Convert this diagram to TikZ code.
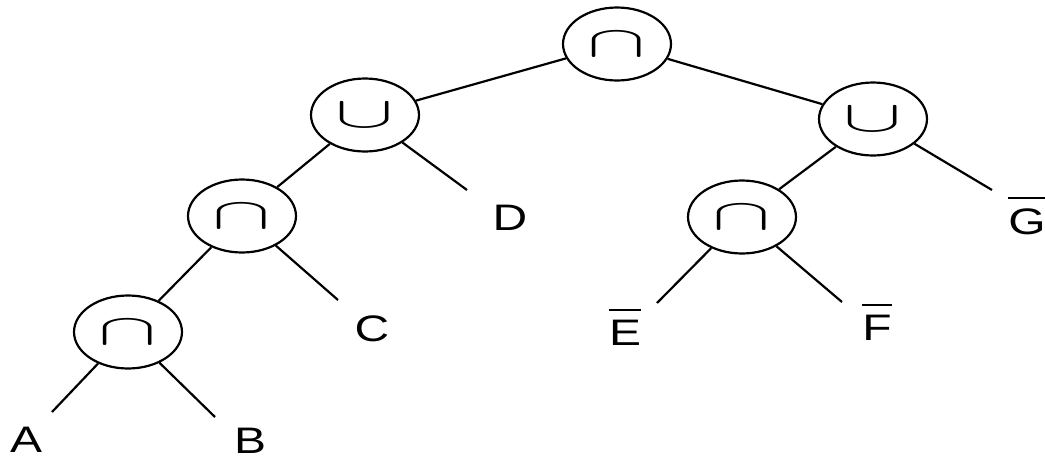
\documentclass[tikz,border=0pt]{standalone}
\usepackage{fontspec}
\setmainfont{Liberation Sans}
\usetikzlibrary{shapes.geometric}
\newcommand\wide[1]{\scalebox{1.3}[1]{#1}}
\newcommand\barred[1]{\vbox{\hrule height 1.2pt\kern 5pt\hbox{#1}}}
\newcommand\opcap{\scalebox{2.0}[1]{\fontsize{27}{27}\selectfont$\cap$}}
\newcommand\opcup{\scalebox{2.0}[1]{\fontsize{27}{27}\selectfont$\cup$}}
\begin{document}
\begin{tikzpicture}[x=0.02cm,y=-0.02cm,
  op/.style={draw,ellipse,line width=1.25pt,minimum width=2.16cm,minimum height=1.46cm,inner sep=0pt},
  leaf/.style={font=\fontsize{21}{21}\selectfont,inner sep=0pt,anchor=base},
  edge/.style={line width=1.25pt}]
\useasboundingbox (0,0) rectangle (1045,460);
% operator nodes
\node[op] (r)  at (617,44)  {\opcap};
\node[op] (lu) at (365,115) {\opcup};
\node[op] (ru) at (873,119) {\opcup};
\node[op] (lc) at (242,216) {\opcap};
\node[op] (rc) at (742,217) {\opcap};
\node[op] (bc) at (128,332) {\opcap};
% leaf labels
\node[leaf] (A) at (26,452) {\wide{A}};
\node[leaf] (B) at (250,453) {\wide{B}};
\node[leaf] (C) at (372,341) {\wide{C}};
\node[leaf] (D) at (510,230) {\wide{D}};
\node[leaf] (E) at (625,345) {\barred{\wide{E}}};
\node[leaf] (F) at (877,340) {\barred{\wide{F}}};
\node[leaf] (G) at (1027,234) {\barred{\wide{G}}};
% free ends of leaf edges
\coordinate (eA) at (52,412);
\coordinate (eB) at (215,417);
\coordinate (eC) at (338,300);
\coordinate (eD) at (467,190);
\coordinate (eE) at (657,303);
\coordinate (eF) at (842,302);
\coordinate (eG) at (992,190);
% edges
\draw[edge] (r) -- (lu);
\draw[edge] (r) -- (ru);
\draw[edge] (lu) -- (lc);
\draw[edge] (lu) -- (eD);
\draw[edge] (lc) -- (bc);
\draw[edge] (lc) -- (eC);
\draw[edge] (bc) -- (eA);
\draw[edge] (bc) -- (eB);
\draw[edge] (ru) -- (rc);
\draw[edge] (ru) -- (eG);
\draw[edge] (rc) -- (eE);
\draw[edge] (rc) -- (eF);
\end{tikzpicture}
\end{document}
